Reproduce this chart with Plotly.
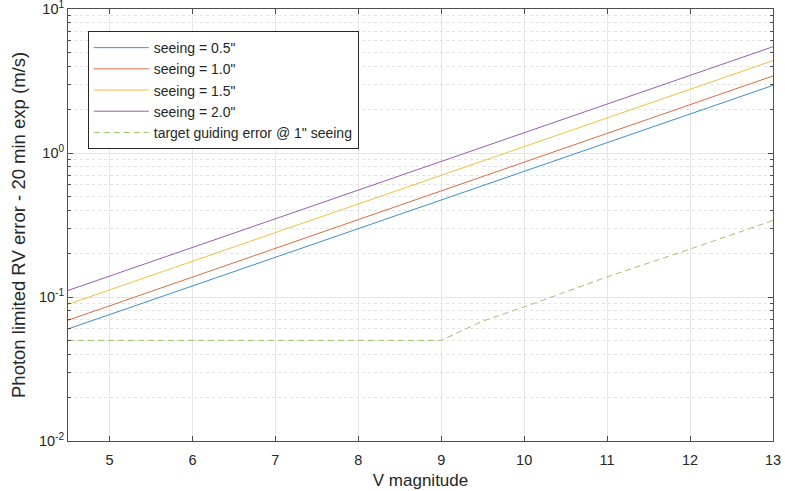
import plotly.graph_objects as go

mag_range = [4.5, 13.0]
seeing_labels = ['seeing = 0.5"', 'seeing = 1.0"', 'seeing = 1.5"', 'seeing = 2.0"']
seeing_err = [
    [0.060, 2.95],
    [0.069, 3.43],
    [0.089, 4.38],
    [0.111, 5.47],
]
guide_mag = [4.5, 9.0, 9.5, 10.0, 11.0, 12.0, 13.0]
guide_err = [0.05, 0.05, 0.068, 0.0853, 0.138, 0.215, 0.34]
guide_label = 'target guiding error @ 1" seeing'
x_title = "V magnitude"
y_title = "Photon limited RV error - 20 min exp (m/s)"

colors = ["#3b8fd4", "#e06b44", "#f0c040", "#9c5cb4", "#9cc46c"]

fig = go.Figure()
for lab, err, c in zip(seeing_labels, seeing_err, colors):
    fig.add_trace(go.Scatter(x=mag_range, y=err, mode="lines", name=lab,
                             line=dict(color=c, width=1)))
fig.add_trace(go.Scatter(x=guide_mag, y=guide_err, mode="lines", name=guide_label,
                         line=dict(color=colors[4], width=1, dash="6px,4px")))

axcol = "#4d4d4d"
txtcol = "#262626"
minor_vals = []
for dec in [0.01, 0.1, 1.0]:
    for k in range(2, 10):
        minor_vals.append(dec * k)

fig.update_layout(
    width=785, height=491,
    margin=dict(l=68, r=12, t=9, b=50),
    paper_bgcolor="white", plot_bgcolor="white",
    font=dict(family="Liberation Sans, Arial, sans-serif", size=13, color=txtcol),
    showlegend=True,
    legend=dict(x=0.028, y=0.949, xanchor="left", yanchor="top",
                bgcolor="white", bordercolor=txtcol, borderwidth=1,
                font=dict(size=14), itemwidth=55, tracegroupgap=0,
                itemclick=False),
    annotations=[dict(text=y_title, xref="paper", yref="paper",
                      x=(18 - 68) / 705, y=0.5, xanchor="center", yanchor="middle",
                      textangle=-90, showarrow=False,
                      font=dict(size=18.5, color=txtcol))],
)
fig.update_xaxes(
    range=mag_range, tickvals=[5, 6, 7, 8, 9, 10, 11, 12, 13],
    automargin=False, ticklabeloverflow="allow", ticklabelstandoff=6,
    showline=True, linecolor=axcol, linewidth=1, mirror="ticks",
    ticks="inside", ticklen=5, tickcolor=axcol,
    showgrid=True, gridcolor="#e6e6e6", gridwidth=1, zeroline=False,
    tickfont=dict(size=14.5, color=txtcol),
    title=dict(text=x_title, font=dict(size=17, color=txtcol), standoff=6),
)
fig.update_yaxes(
    type="log", range=[-2, 1],
    automargin=False, ticklabeloverflow="allow",
    tickvals=[0.01, 0.1, 1, 10],
    ticktext=["10<sup>-2</sup>", "10<sup>-1</sup>", "10<sup>0</sup>", "10<sup>1</sup>"],
    showline=True, linecolor=axcol, linewidth=1, mirror="ticks",
    ticks="inside", ticklen=5, tickcolor=axcol,
    showgrid=True, gridcolor="#e6e6e6", gridwidth=1, zeroline=False,
    tickfont=dict(size=14.5, color=txtcol),
    minor=dict(tickvals=minor_vals, ticks="inside", ticklen=3, tickcolor=axcol,
               showgrid=True, gridcolor="#e3e3e3", griddash="dot", gridwidth=1),
)
fig.write_html("out.html", config={"displayModeBar": False},
               post_script="document.body.style.margin='0';")
